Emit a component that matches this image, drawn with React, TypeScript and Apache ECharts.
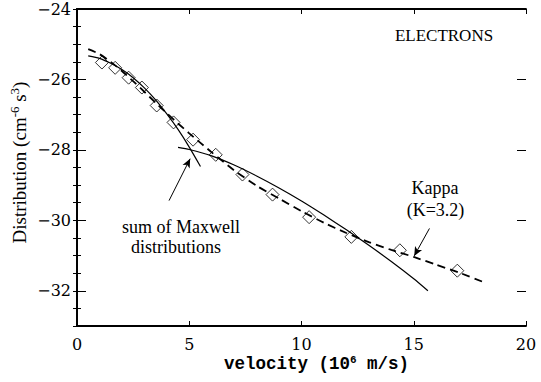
import { useEffect, useRef } from 'react';
import * as echarts from 'echarts';

// Measured electron distribution (diamonds): velocity in 10^6 m/s, log10 f in cm^-6 s^3
const measuredV = [1.11, 1.70, 2.30, 2.89, 3.55, 4.30, 5.17, 6.18, 7.37, 8.71, 10.34, 12.22, 14.38, 16.94];
const measuredF = [-25.52, -25.67, -25.95, -26.23, -26.74, -27.22, -27.71, -28.14, -28.70, -29.27, -29.91, -30.47, -30.85, -31.43];

// Kappa fit (dashed)
const kappaV = [0.5, 1.0, 1.5, 2.0, 2.5, 3.0, 3.5, 4.0, 4.5, 5.0, 5.5, 6.0, 7.0, 8.0, 9.0, 10, 11, 12, 13, 14, 15, 16, 17, 18.05];
const kappaF = [-25.14, -25.28, -25.50, -25.76, -26.05, -26.35, -26.66, -26.96, -27.25, -27.53, -27.80, -28.07, -28.58, -29.02, -29.38, -29.74, -30.07, -30.36, -30.62, -30.84, -31.04, -31.26, -31.48, -31.74];

// Maxwellian core component (solid)
const coreV = [0.5, 1.0, 1.5, 2.0, 2.5, 3.0, 3.5, 4.0, 4.5, 5.0, 5.5];
const coreF = [-25.33, -25.40, -25.54, -25.72, -25.95, -26.24, -26.58, -26.98, -27.42, -27.92, -28.47];

// Maxwellian halo component (solid)
const haloV = [4.5, 5, 6, 7, 8, 9, 10, 11, 12, 13, 14, 15, 15.63];
const haloF = [-27.93, -27.99, -28.17, -28.43, -28.74, -29.08, -29.45, -29.85, -30.27, -30.71, -31.17, -31.66, -32.0];

const yLabelValues = [-32, -30, -28, -26, -24];

const pairs = (xs: number[], ys: number[]) => xs.map((x, i) => [x, ys[i]]);

export default function App() {
  const ref = useRef<HTMLDivElement>(null);

  useEffect(() => {
    document.body.style.margin = '0';
    const chart = echarts.init(ref.current!, null, { renderer: 'svg' });
    const ink = '#000';
    const serif = '"Liberation Serif", "Times New Roman", serif';
    const tickFont = '"DejaVu Serif", serif';
    const monoFont = '"Liberation Mono", "Courier New", monospace';

    const yBase = {
      type: 'value',
      min: -33,
      max: -24,
      splitLine: { show: false },
    };
    const axisLine = { show: true, lineStyle: { color: ink, width: 1.8 } };

    chart.setOption({
      animation: false,
      backgroundColor: '#fff',
      grid: { left: 76, right: 15, top: 9, bottom: 56 },
      xAxis: [
        {
          type: 'value',
          position: 'bottom',
          min: 0,
          max: 20,
          interval: 5,
          axisLine,
          axisTick: { inside: true, length: 5, lineStyle: { color: ink, width: 1 } },
          axisLabel: { color: ink, fontFamily: tickFont, fontSize: 16, margin: 10 },
          splitLine: { show: false },
          name: 'velocity (10{sup|6} m/s)',
          nameLocation: 'middle',
          nameGap: 28,
          nameMoveOverlap: false,
          nameTextStyle: {
            color: ink,
            fontFamily: monoFont,
            fontWeight: 'bold',
            fontSize: 17.5,
            padding: [0, 0, 0, 30],
            rich: {
              sup: { fontFamily: monoFont, fontWeight: 'bold', fontSize: 11, padding: [0, 0, 9, 0] },
            },
          },
        },
        {
          type: 'value',
          position: 'top',
          min: 0,
          max: 20,
          interval: 5,
          axisLine,
          axisTick: { inside: true, length: 5, lineStyle: { color: ink, width: 1 } },
          axisLabel: { show: false },
          splitLine: { show: false },
        },
      ],
      yAxis: [
        {
          ...yBase,
          position: 'left',
          interval: 0.5,
          axisLine,
          axisTick: { inside: true, length: 4, lineStyle: { color: ink, width: 1 } },
          axisLabel: {
            color: ink,
            fontFamily: tickFont,
            fontSize: 16,
            margin: 6,
            formatter: (v: number) => (v % 2 === 0 ? String(v).replace('-', '\u2212') : ''),
          },
          name: 'Distribution (cm{sup|-6} s{sup|3})',
          nameLocation: 'middle',
          nameRotate: 90,
          nameGap: 46,
          nameMoveOverlap: false,
          nameTextStyle: {
            color: ink,
            fontFamily: serif,
            fontSize: 19,
            padding: [0, 0, 0, 10],
            rich: {
              sup: { fontFamily: serif, fontSize: 13, padding: [0, 0, 10, 0] },
            },
          },
        },
        {
          ...yBase,
          position: 'right',
          interval: 0.5,
          axisLine,
          axisTick: { inside: true, length: 4, lineStyle: { color: ink, width: 1 } },
          axisLabel: { show: false },
        },
        {
          ...yBase,
          position: 'left',
          axisLine: { show: false },
          axisTick: { inside: true, length: 9, customValues: yLabelValues, lineStyle: { color: ink, width: 1 } },
          axisLabel: { show: false },
        },
        {
          ...yBase,
          position: 'right',
          axisLine: { show: false },
          axisTick: { inside: true, length: 9, customValues: yLabelValues, lineStyle: { color: ink, width: 1 } },
          axisLabel: { show: false },
        },
      ],
      series: [
        {
          name: 'Maxwell core',
          type: 'line',
          data: pairs(coreV, coreF),
          showSymbol: false,
          smooth: 0.2,
          lineStyle: { color: ink, width: 1.2 },
          markLine: {
            silent: true,
            symbol: ['none', 'arrow'],
            symbolSize: [6, 9],
            label: { show: false },
            lineStyle: { color: ink, width: 1, type: 'solid' },
            data: [[{ coord: [4.10, -29.44] }, { coord: [5.04, -28.25] }]],
          },
        },
        {
          name: 'Maxwell halo',
          type: 'line',
          data: pairs(haloV, haloF),
          showSymbol: false,
          smooth: 0.2,
          lineStyle: { color: ink, width: 1.2 },
        },
        {
          name: 'Kappa',
          type: 'line',
          data: pairs(kappaV, kappaF),
          showSymbol: false,
          smooth: 0.2,
          lineStyle: { color: ink, width: 1.8, type: [8, 5] },
          markLine: {
            silent: true,
            symbol: ['none', 'arrow'],
            symbolSize: [6, 9],
            label: { show: false },
            lineStyle: { color: ink, width: 1, type: 'solid' },
            data: [[{ coord: [15.70, -30.23] }, { coord: [15.02, -31.01] }]],
          },
        },
        {
          name: 'Measured',
          type: 'scatter',
          data: pairs(measuredV, measuredF),
          symbol: 'diamond',
          symbolSize: [13, 13],
          itemStyle: { color: 'transparent', borderColor: ink, borderWidth: 1 },
        },
      ],
      graphic: [
        { type: 'text', x: 444, y: 35, style: { text: 'ELECTRONS', fill: ink, font: `17px ${serif}`, textAlign: 'center', textVerticalAlign: 'middle' } },
        { type: 'text', x: 435, y: 188, style: { text: 'Kappa', fill: ink, font: `18px ${serif}`, textAlign: 'center', textVerticalAlign: 'middle' } },
        { type: 'text', x: 435.5, y: 210, style: { text: '(K=3.2)', fill: ink, font: `18px ${serif}`, textAlign: 'center', textVerticalAlign: 'middle' } },
        { type: 'text', x: 181, y: 226.5, style: { text: 'sum of Maxwell', fill: ink, font: `18px ${serif}`, textAlign: 'center', textVerticalAlign: 'middle' } },
        { type: 'text', x: 176, y: 246.5, style: { text: 'distributions', fill: ink, font: `18px ${serif}`, textAlign: 'center', textVerticalAlign: 'middle' } },
      ],
    });
    return () => chart.dispose();
  }, []);

  return <div ref={ref} style={{ width: 541, height: 382 }} />;
}
